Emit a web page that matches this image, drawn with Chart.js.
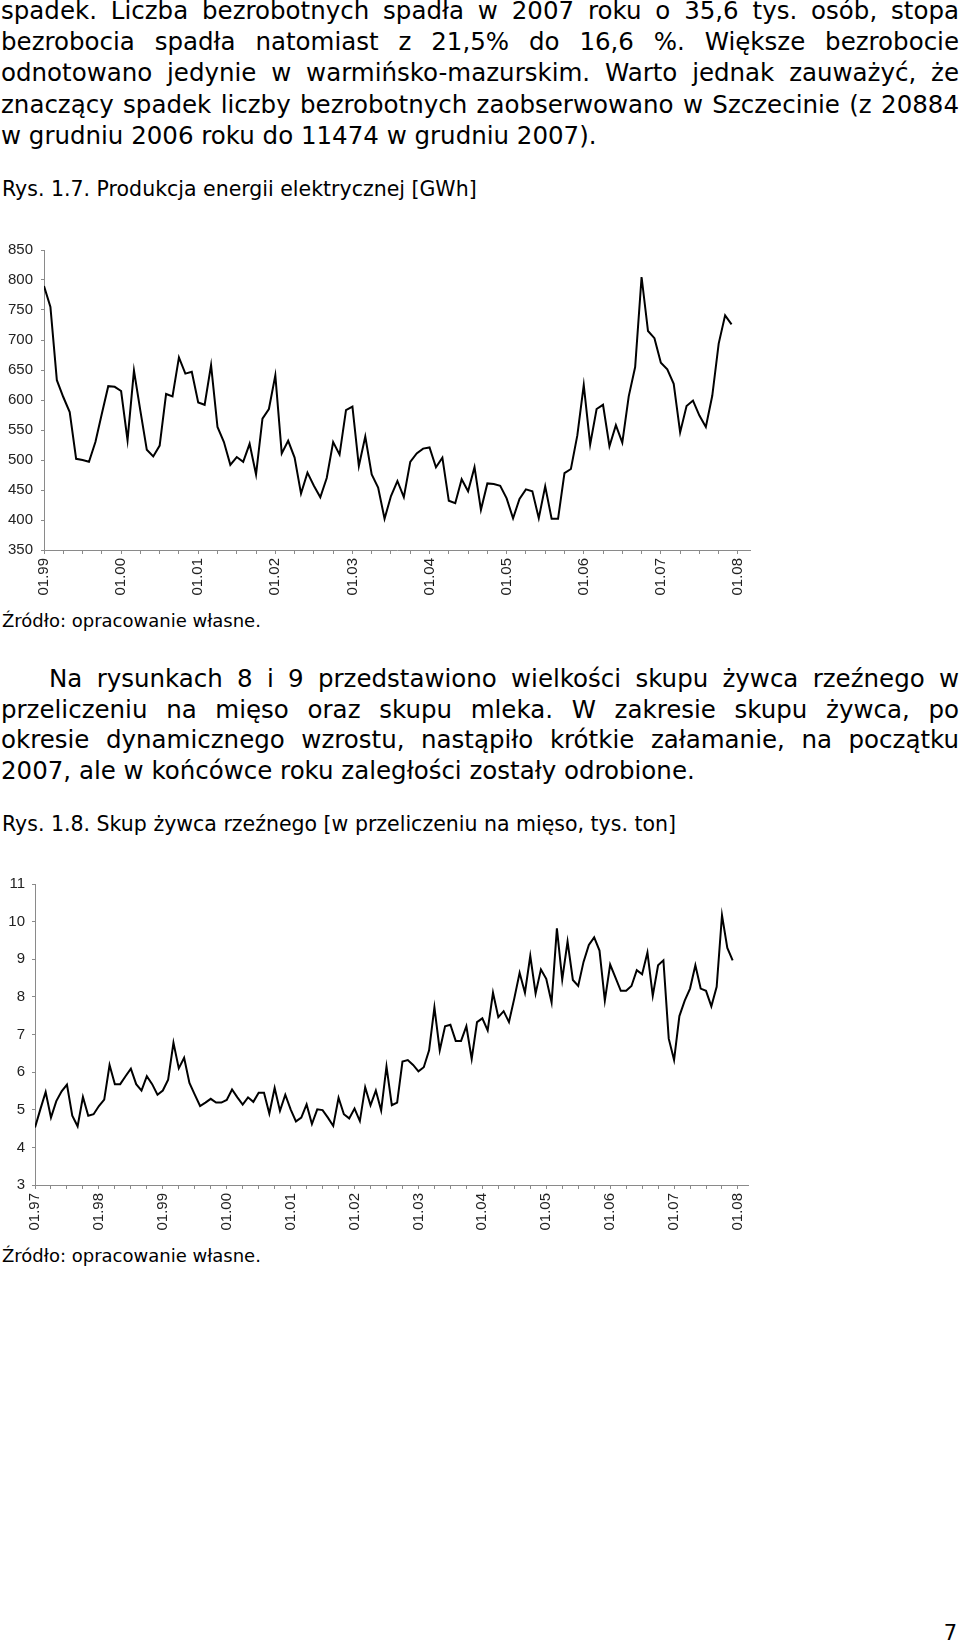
<!DOCTYPE html>
<html lang="pl">
<head>
<meta charset="utf-8">
<title>Rys. 1.7 i 1.8</title>
<script src="https://cdn.jsdelivr.net/npm/chart.js@4.4.1/dist/chart.umd.min.js"></script>
<style>
  html, body { margin: 0; padding: 0; background: #fff; }
  body {
    width: 960px; height: 1643px; position: relative; overflow: hidden;
    font-family: "DejaVu Sans", Verdana, sans-serif; color: #000;
  }
  .para { position: absolute; left: 1px; width: 958px; font-size: 24.5px; }
  .para div { text-align: justify; text-align-last: justify; }
  .para div.last { text-align-last: left; }
  .cap { position: absolute; left: 2px; font-size: 20.5px; line-height: 20.5px; white-space: nowrap; }
  .src { position: absolute; left: 2px; font-size: 18px; line-height: 18px; white-space: nowrap; }
  .pagenum { position: absolute; right: 3px; top: 1623px; font-size: 21px; line-height: 21px; }
  canvas { position: absolute; left: 0; }
</style>
</head>
<body>

<div class="para" style="top:-5px; line-height:31.2px;">
  <div>spadek. Liczba bezrobotnych spadła w 2007 roku o 35,6 tys. osób, stopa</div>
  <div>bezrobocia spadła natomiast z 21,5% do 16,6 %. Większe bezrobocie</div>
  <div>odnotowano jedynie w warmińsko-mazurskim. Warto jednak zauważyć, że</div>
  <div>znaczący spadek liczby bezrobotnych zaobserwowano w Szczecinie (z 20884</div>
  <div class="last">w grudniu 2006 roku do 11474 w grudniu 2007).</div>
</div>

<div class="cap" style="top:179px;">Rys. 1.7. Produkcja energii elektrycznej [GWh]</div>
<canvas id="energyChart" width="760" height="367" style="top:233px;"></canvas>
<div class="src" style="top:612px;">Źródło: opracowanie własne.</div>

<div class="para" style="top:664px; line-height:30.6px;">
  <div style="margin-left:48px;">Na rysunkach 8 i 9 przedstawiono wielkości skupu żywca rzeźnego w</div>
  <div>przeliczeniu na mięso oraz skupu mleka. W zakresie skupu żywca, po</div>
  <div>okresie dynamicznego wzrostu, nastąpiło krótkie załamanie, na początku</div>
  <div class="last">2007, ale w końcówce roku zaległości zostały odrobione.</div>
</div>

<div class="cap" style="top:814px;">Rys. 1.8. Skup żywca rzeźnego [w przeliczeniu na mięso, tys. ton]</div>
<canvas id="livestockChart" width="760" height="367" style="top:868px;"></canvas>
<div class="src" style="top:1247px;">Źródło: opracowanie własne.</div>

<div class="pagenum">7</div>

<script>
// Rys. 1.7 - monthly values, 01.1999 .. 12.2007 [GWh]
const energyValues = [
  790, 755, 633, 605, 580, 502, 500, 497, 530, 577,
  623, 622, 615, 533, 649, 582, 517, 506, 524, 610,
  606, 671, 644, 647, 596, 592, 658, 555, 530, 492,
  505, 497, 527, 476, 569, 585, 641, 511, 532, 504,
  444, 479, 457, 438, 470, 530, 509, 583, 589, 490,
  539, 476, 454, 402, 440, 465, 438, 497, 511, 519,
  521, 488, 504, 432, 428, 468, 448, 488, 417, 461,
  460, 457, 436, 403, 435, 451, 448, 403, 456, 402,
  402, 478, 485, 541, 625, 526, 585, 592, 523, 558,
  529, 606, 655, 805, 715, 703, 662, 651, 627, 546,
  590, 599, 574, 555, 607, 694, 741, 726
];
const energyTickLabels = ['01.99', '01.00', '01.01', '01.02', '01.03', '01.04', '01.05', '01.06', '01.07', '01.08'];

// Rys. 1.8 - monthly values, 01.1997 .. 12.2007 [tys. ton]
const livestockValues = [
  4.53, 5.01, 5.47, 4.79, 5.23, 5.49, 5.67, 4.84, 4.56, 5.34,
  4.84, 4.88, 5.10, 5.27, 6.19, 5.68, 5.68, 5.89, 6.09, 5.68,
  5.51, 5.89, 5.68, 5.40, 5.51, 5.80, 6.78, 6.10, 6.38, 5.71,
  5.40, 5.10, 5.19, 5.29, 5.19, 5.19, 5.26, 5.54, 5.33, 5.14,
  5.33, 5.21, 5.45, 5.45, 4.90, 5.58, 4.97, 5.40, 5.01, 4.69,
  4.79, 5.14, 4.62, 5.01, 4.99, 4.79, 4.57, 5.32, 4.88, 4.77,
  5.03, 4.70, 5.60, 5.12, 5.51, 4.98, 6.15, 5.12, 5.19, 6.28,
  6.32, 6.19, 6.02, 6.13, 6.58, 7.72, 6.58, 7.22, 7.26, 6.83,
  6.83, 7.22, 6.35, 7.33, 7.43, 7.11, 8.11, 7.46, 7.62, 7.33,
  7.96, 8.64, 8.11, 9.09, 8.09, 8.73, 8.48, 7.85, 9.82, 8.46,
  9.47, 8.45, 8.29, 8.93, 9.38, 9.58, 9.23, 7.90, 8.86, 8.51,
  8.16, 8.16, 8.29, 8.71, 8.60, 9.18, 8.03, 8.84, 8.97, 6.89,
  6.32, 7.49, 7.90, 8.22, 8.84, 8.22, 8.16, 7.75, 8.27, 10.17,
  9.30, 8.97
];
const livestockTickLabels = ['01.97', '01.98', '01.99', '01.00', '01.01', '01.02', '01.03', '01.04', '01.05', '01.06', '01.07', '01.08'];

const axisGray = '#8a8a8a';
const tickFont = { family: '"Liberation Sans", Arial, sans-serif', size: 15 };
const tickColor = '#222';

function drawSeries(canvasId, values, tickLabels, cfg) {
  const points = values.map((v, i) => ({ x: i, y: v }));
  const lastMonth = (tickLabels.length - 1) * 12;

  return new Chart(document.getElementById(canvasId), {
    type: 'line',
    data: {
      datasets: [{
        data: points,
        borderColor: '#000',
        borderWidth: 2,
        pointRadius: 0,
        tension: 0,
        fill: false
      }]
    },
    options: {
      responsive: false,
      animation: false,
      events: [],
      layout: { padding: { top: 12, right: 2, left: 0, bottom: 0 } },
      plugins: { legend: { display: false }, tooltip: { enabled: false } },
      scales: {
        x: {
          type: 'linear',
          min: 0,
          max: cfg.xMax,
          // quarterly tick marks, labels only on January
          afterBuildTicks: (scale) => {
            const ticks = [];
            for (let m = 0; m <= lastMonth; m += 3) ticks.push({ value: m });
            scale.ticks = ticks;
          },
          afterFit: (scale) => { scale.height = 50; },
          grid: { drawOnChartArea: false, tickLength: 4, color: axisGray },
          border: { color: axisGray, width: 1 },
          ticks: {
            autoSkip: false,
            minRotation: 90,
            maxRotation: 90,
            padding: 4,
            font: tickFont,
            color: tickColor,
            callback: (v) => (v % 12 === 0 ? tickLabels[v / 12] : '')
          }
        },
        y: {
          min: cfg.yMin,
          max: cfg.yMax,
          afterFit: (scale) => { scale.width = cfg.yWidth; },
          grid: { drawOnChartArea: false, tickLength: 3, color: axisGray },
          border: { color: axisGray, width: 1 },
          ticks: { stepSize: cfg.yStep, padding: cfg.yPad, font: tickFont, color: tickColor }
        }
      }
    }
  });
}

drawSeries('energyChart', energyValues, energyTickLabels,
  { xMax: 110, yMin: 350, yMax: 850, yStep: 50, yWidth: 44, yPad: 8 });
drawSeries('livestockChart', livestockValues, livestockTickLabels,
  { xMax: 134, yMin: 3, yMax: 11, yStep: 1, yWidth: 35, yPad: 7 });
</script>
</body>
</html>
